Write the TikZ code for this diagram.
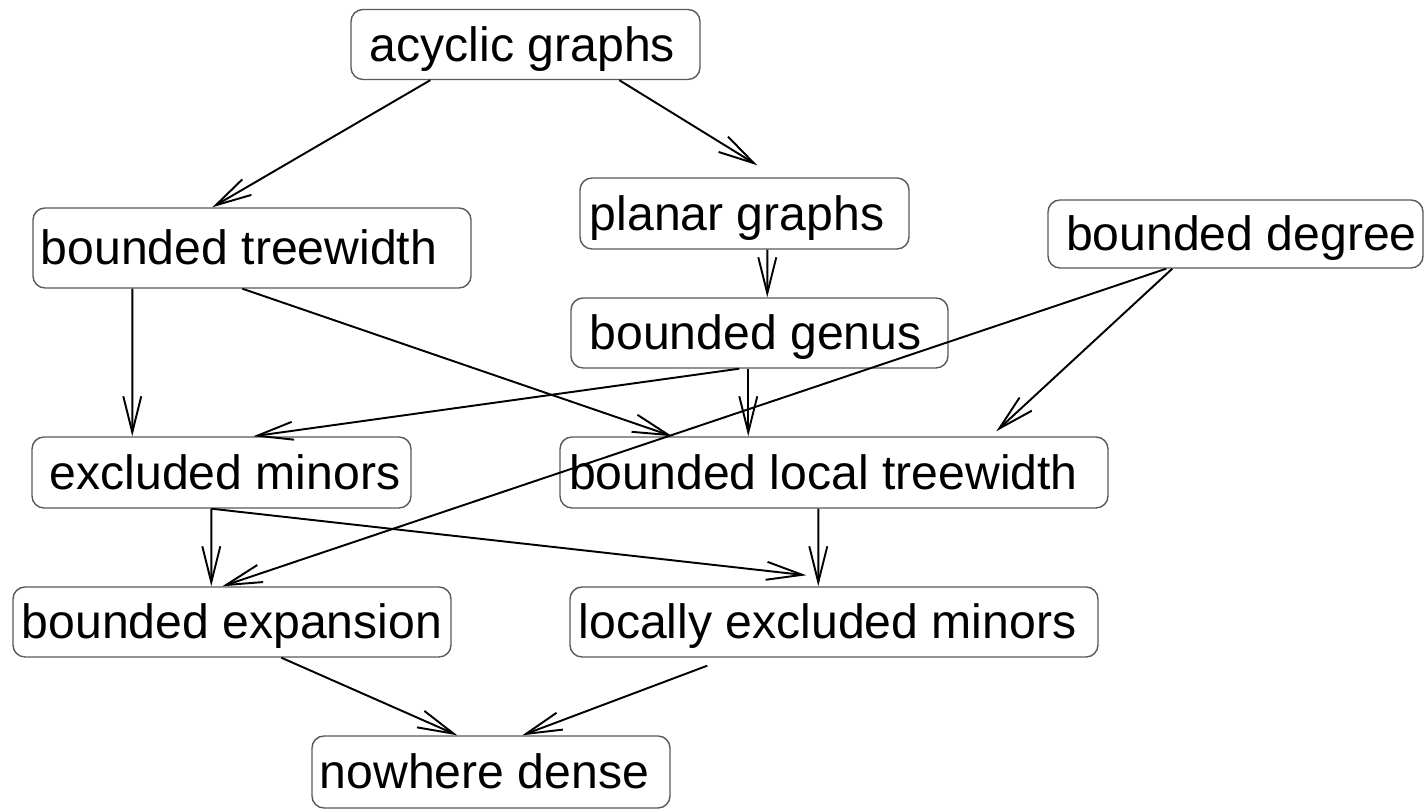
\documentclass[tikz,border=0pt]{standalone}
\usepackage{fontspec}
\setmainfont{Liberation Sans}
\usepackage{tikz}
\usetikzlibrary{positioning, arrows, arrows.meta}

\begin{document}
\begin{tikzpicture}[
  cls/.style={draw=black!65, line width=0.4pt, rounded corners=0.12cm,
    inner sep=0pt, text height=0.37cm, text depth=0.03cm,
    font=\fontsize{13.7pt}{16pt}\selectfont},
  inc/.style={-{Straight Barb[length=3.6mm,width=1.8mm]}, line width=0.55pt}]
\useasboundingbox (0,0) rectangle (14.25,8.12);

% Graph classes
\node[cls, minimum width=3.49cm, minimum height=0.70cm] (acyc) at (5.255,7.675) {acyclic graphs\hspace*{0.06cm}};
\node[cls, minimum width=4.38cm, minimum height=0.80cm] (tw) at (2.52,5.64) {bounded treewidth\hspace*{0.26cm}};
\node[cls, minimum width=3.29cm, minimum height=0.71cm] (planar) at (7.445,5.985) {planar graphs\hspace*{0.15cm}};
\node[cls, minimum width=3.77cm, minimum height=0.70cm] (genus) at (7.595,4.79) {bounded genus\hspace*{0.08cm}};
\node[cls, minimum width=3.75cm, minimum height=0.68cm] (deg) at (12.355,5.78) {\hspace*{0.12cm}bounded degree};
\node[cls, minimum width=3.79cm, minimum height=0.71cm] (exmin) at (2.215,3.395) {\hspace*{0.07cm}excluded minors};
\node[cls, minimum width=5.48cm, minimum height=0.71cm] (loctw) at (8.34,3.395) {bounded local treewidth\hspace*{0.21cm}};
\node[cls, minimum width=4.38cm, minimum height=0.70cm] (bexp) at (2.32,1.90) {bounded expansion};
\node[cls, minimum width=5.28cm, minimum height=0.70cm] (locex) at (8.34,1.90) {locally excluded minors\hspace*{0.13cm}};
\node[cls, minimum width=3.58cm, minimum height=0.72cm] (nwd) at (4.91,0.40) {nowhere dense\hspace*{0.13cm}};

% Inclusions
\draw[inc] ([xshift=0.80cm]acyc.south west) -- ([xshift=1.80cm]tw.north west);
\draw[inc] ([xshift=2.69cm]acyc.south west) -- ([xshift=1.78cm,yshift=0.12cm]planar.north west);
\draw[inc] ([xshift=1.88cm]planar.south west) -- ([xshift=1.97cm]genus.north west);
\draw[inc] ([xshift=1.00cm]tw.south west) -- ([xshift=1.01cm]exmin.north west);
\draw[inc] ([xshift=2.10cm]tw.south west) -- ([xshift=1.13cm]loctw.north west);
\draw[inc] ([xshift=1.69cm]genus.south west) -- ([xshift=2.22cm]exmin.north west);
\draw[inc] ([xshift=1.78cm]genus.south west) -- ([xshift=1.89cm]loctw.north west);
\draw[inc] ([xshift=1.19cm]deg.south west) -- ([xshift=2.10cm]bexp.north west);
\draw[inc] ([xshift=1.25cm]deg.south west) -- ([xshift=4.37cm,yshift=0.05cm]loctw.north west);
\draw[inc] ([xshift=1.80cm]exmin.south west) -- ([xshift=1.99cm]bexp.north west);
\draw[inc] ([xshift=1.80cm]exmin.south west) -- ([xshift=2.37cm,yshift=0.11cm]locex.north west);
\draw[inc] ([xshift=2.59cm]loctw.south west) -- ([xshift=2.49cm]locex.north west);
\draw[inc] ([xshift=2.69cm]bexp.south west) -- ([xshift=1.46cm]nwd.north west);
\draw[inc] ([xshift=1.38cm,yshift=-0.08cm]locex.south west) -- ([xshift=2.11cm]nwd.north west);
\end{tikzpicture}
\end{document}
